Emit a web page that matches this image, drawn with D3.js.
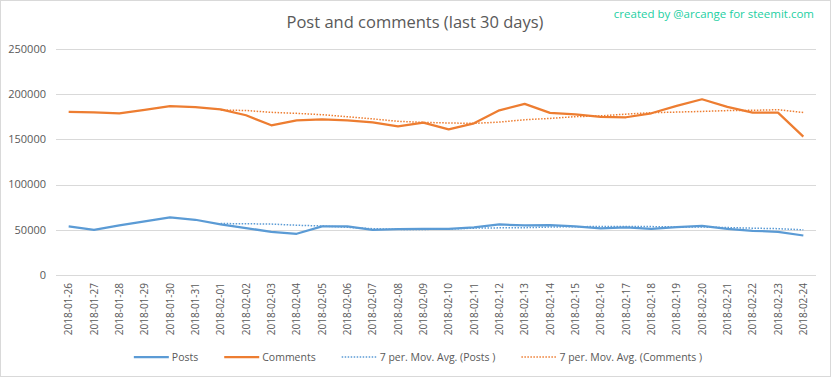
<!DOCTYPE html>
<html>
<head>
<meta charset="utf-8">
<script src="https://cdn.jsdelivr.net/npm/d3@7"></script>
<style>
body { margin: 0; background: #fff; }
text { font-family: "Open Sans", sans-serif; }
</style>
</head>
<body>
<div id="chart"></div>
<script>
var dates = [
	"2018-01-26", "2018-01-27", "2018-01-28", "2018-01-29", "2018-01-30", "2018-01-31",
	"2018-02-01", "2018-02-02", "2018-02-03", "2018-02-04", "2018-02-05", "2018-02-06",
	"2018-02-07", "2018-02-08", "2018-02-09", "2018-02-10", "2018-02-11", "2018-02-12",
	"2018-02-13", "2018-02-14", "2018-02-15", "2018-02-16", "2018-02-17", "2018-02-18",
	"2018-02-19", "2018-02-20", "2018-02-21", "2018-02-22", "2018-02-23", "2018-02-24"
];
var posts = [
	53700, 50000, 54800, 59300, 63700, 61100, 55900, 51900, 47800, 45600,
	53700, 53700, 50000, 50700, 51100, 51100, 52600, 55900, 54800, 55200,
	53700, 51500, 52600, 51100, 53000, 54400, 51100, 48900, 47800, 43700
];
var comments = [
	180500, 180000, 178900, 182600, 186700, 185600, 183300, 176700, 165600, 171100,
	172200, 171100, 168900, 164400, 168500, 161100, 167800, 182200, 189300, 179300,
	177800, 174800, 174500, 178900, 187000, 194400, 185900, 179600, 179600, 153000
];
var yTicks = [0, 50000, 100000, 150000, 200000, 250000];
var period = 7;

var w = 832;
var h = 378;
var pLeft = 56, pRight = 816, pTop = 49, pBottom = 275;

// trailing moving average, like excel's trendline
function movAvg(values) {
	var out = [];
	for (var i = period - 1; i < values.length; i++) {
		out.push([i, d3.mean(values.slice(i - period + 1, i + 1))]);
	}
	return out;
}

var svg = d3.select('#chart')
	.append('svg')
	.attr('width', w)
	.attr('height', h);

svg.append('rect')
	.attr('x', 0.5).attr('y', 0.5)
	.attr('width', w - 2).attr('height', h - 2)
	.attr('fill', '#fff')
	.attr('stroke', '#d9d9d9');

var xScale = d3.scalePoint()
	.domain(dates)
	.range([pLeft, pRight])
	.padding(0.5);
var yScale = d3.scaleLinear()
	.domain([0, 250000])
	.range([pBottom, pTop]);

svg.selectAll('line.grid')
	.data(yTicks)
	.enter()
	.append('line')
	.attr('class', 'grid')
	.attr('x1', pLeft).attr('x2', pRight)
	.attr('y1', function (d) { return Math.round(yScale(d)) + 0.5; })
	.attr('y2', function (d) { return Math.round(yScale(d)) + 0.5; })
	.attr('stroke', '#d9d9d9')
	.attr('stroke-width', 1);

svg.selectAll('text.ytick')
	.data(yTicks)
	.enter()
	.append('text')
	.attr('class', 'ytick')
	.text(function (d) { return d; })
	.attr('x', 46)
	.attr('y', function (d) { return yScale(d); })
	.attr('dy', '0.35em')
	.attr('text-anchor', 'end')
	.attr('font-size', '11px')
	.attr('fill', '#595959');

svg.selectAll('text.xtick')
	.data(dates)
	.enter()
	.append('text')
	.attr('class', 'xtick')
	.text(function (d) { return d; })
	.attr('transform', function (d) {
		return 'translate(' + (xScale(d) + 3.5) + ',' + 283 + ') rotate(-90)';
	})
	.attr('text-anchor', 'end')
	.attr('font-size', '10px')
	.attr('fill', '#595959');

var line = d3.line()
	.x(function (d) { return xScale(dates[d[0]]); })
	.y(function (d) { return yScale(d[1]); });

var series = [
	{name: 'Posts', data: posts.map(function (v, i) { return [i, v]; }), color: '#5b9bd5', dash: null, width: 2.25},
	{name: 'Comments', data: comments.map(function (v, i) { return [i, v]; }), color: '#ed7d31', dash: null, width: 2.25},
	{name: '7 per. Mov. Avg. (Posts )', data: movAvg(posts), color: '#5b9bd5', dash: '1.5,1.5', width: 1.5},
	{name: '7 per. Mov. Avg. (Comments )', data: movAvg(comments), color: '#ed7d31', dash: '1.5,1.5', width: 1.5}
];

svg.selectAll('path.series')
	.data(series)
	.enter()
	.append('path')
	.attr('class', 'series')
	.attr('d', function (d) { return line(d.data); })
	.attr('fill', 'none')
	.attr('stroke', function (d) { return d.color; })
	.attr('stroke-width', function (d) { return d.width; })
	.attr('stroke-dasharray', function (d) { return d.dash; })
	.attr('stroke-linejoin', 'round')
	.attr('stroke-linecap', 'butt');

svg.append('text')
	.text('Post and comments (last 30 days)')
	.attr('x', 415)
	.attr('y', 28)
	.attr('text-anchor', 'middle')
	.attr('font-size', '16.5px')
	.attr('fill', '#595959');

svg.append('text')
	.text('created by @arcange for steemit.com')
	.attr('x', 814)
	.attr('y', 18)
	.attr('text-anchor', 'end')
	.attr('font-size', '11.5px')
	.attr('fill', '#23cfa2');

// legend, laid out left to right then centred
var legend = svg.append('g');
var lx = 0;
series.forEach(function (s) {
	var g = legend.append('g').attr('transform', 'translate(' + lx + ',0)');
	g.append('line')
		.attr('x1', 0).attr('x2', 35)
		.attr('y1', 0).attr('y2', 0)
		.attr('stroke', s.color)
		.attr('stroke-width', s.dash ? 1.5 : 2.25)
		.attr('stroke-dasharray', s.dash);
	var t = g.append('text')
		.text(s.name)
		.attr('x', 38)
		.attr('dy', '0.35em')
		.attr('font-size', '10.5px')
		.attr('fill', '#595959');
	lx += 38 + t.node().getComputedTextLength() + 26;
});
lx -= 26;
legend.attr('transform', 'translate(' + (418 - lx / 2) + ',' + 357 + ')');
</script>
</body>
</html>
